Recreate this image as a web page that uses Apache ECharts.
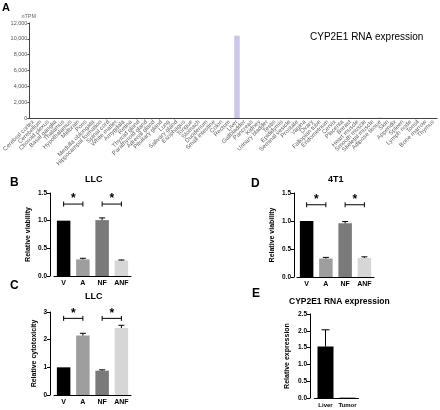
<!DOCTYPE html>
<html>
<head>
<meta charset="utf-8">
<script src="https://cdn.jsdelivr.net/npm/echarts@6/dist/echarts.min.js"></script>
<style>
html,body{margin:0;padding:0;background:#fff;}
#chart{width:440px;height:410px;}
</style>
</head>
<body>
<div id="chart"></div>
<script>
// ---------- DATA ----------
const tissues = ['Cerebral cortex','Cerebellum','Choroid plexus','Basal ganglia','Thalamus','Hypothalamus','Midbrain','Pons','Medulla oblongata','Hippocampal formation','Spinal cord','White matter','Amygdala','Retina','Thyroid gland','Parathyroid gland','Adrenal gland','Pituitary gland','Lung','Salivary gland','Esophagus','Tongue','Stomach','Duodenum','Small intestine','Colon','Rectum','Liver','Gallbladder','Pancreas','Kidney','Urinary bladder','Testis','Epididymis','Seminal vesicle','Prostate','Vagina','Ovary','Fallopian tube','Endometrium','Cervix','Placenta','Breast','Heart muscle','Smooth muscle','Skeletal muscle','Adipose tissue','Skin','Appendix','Spleen','Lymph node','Tonsil','Bone marrow','Thymus'];
const tissueNTPM = [12,8,10,15,9,14,10,11,12,10,13,9,11,6,4,5,20,6,18,3,8,4,6,9,7,5,6,10400,12,5,10,7,5,8,9,6,10,7,9,6,8,4,30,8,10,6,45,7,6,5,4,5,6,5];
const nTPMTicks = [0,2000,4000,6000,8000,10000,12000];

const groups = ['V','A','NF','ANF'];
const llcViability = [1.00, 0.30, 1.01, 0.28];
const llcViabilityErr = [0, 0.02, 0.04, 0.01];
const llcCytotoxicity = [1.00, 2.15, 0.88, 2.42];
const llcCytotoxicityErr = [0, 0.08, 0.03, 0.10];
const t1Viability = [1.00, 0.33, 0.96, 0.34];
const t1ViabilityErr = [0, 0.02, 0.03, 0.02];
const sigPairs = [[0,1],[2,3]];
const sigLevelB = 1.30, sigLevelC = 2.77, sigLevelD = 1.29;

const cypGroups = ['Liver','Tumor'];
const cypExpression = [1.53, 0.01];
const cypExpressionErr = [0.50, 0];

// ---------- STYLE ----------
const groupColors = ['#000000','#9e9e9e','#7a7a7a','#d6d6d6'];
const FONT = 'Liberation Sans, Arial, sans-serif';

function fmtThousands(v){ return String(v).replace(/\B(?=(\d{3})+(?!\d))/g, ','); }

function errSeries(xi, yi, vals, errs, cap){
  return {
    type:'custom', xAxisIndex:xi, yAxisIndex:yi, z:5,
    data: vals.map((v,i)=>[i, v, errs[i]]),
    encode:{x:0, y:1},
    renderItem:function(params, api){
      const x=api.value(0), v=api.value(1), e=api.value(2);
      if(!e) return null;
      const p0=api.coord([x,v]), p1=api.coord([x,v+e]);
      const h=cap/2;
      return {type:'group', children:[
        {type:'line', shape:{x1:p0[0],y1:p0[1],x2:p1[0],y2:p1[1]}, style:{stroke:'#000',lineWidth:1}},
        {type:'line', shape:{x1:p1[0]-h,y1:p1[1],x2:p1[0]+h,y2:p1[1]}, style:{stroke:'#000',lineWidth:1}}
      ]};
    }
  };
}
function sigSeries(xi, yi, level){
  return {
    type:'custom', xAxisIndex:xi, yAxisIndex:yi, z:5,
    data: sigPairs.map(p=>[p[0], p[1], level]),
    encode:{x:[0,1], y:2},
    renderItem:function(params, api){
      const a=api.coord([api.value(0), api.value(2)]);
      const b=api.coord([api.value(1), api.value(2)]);
      return {type:'group', children:[
        {type:'line', shape:{x1:a[0],y1:a[1],x2:b[0],y2:b[1]}, style:{stroke:'#000',lineWidth:1}},
        {type:'line', shape:{x1:a[0],y1:a[1]-2.5,x2:a[0],y2:a[1]+2.5}, style:{stroke:'#000',lineWidth:1}},
        {type:'line', shape:{x1:b[0],y1:b[1]-2.5,x2:b[0],y2:b[1]+2.5}, style:{stroke:'#000',lineWidth:1}},
        {type:'text', style:{text:'*', x:(a[0]+b[0])/2, y:a[1]+1, align:'center', verticalAlign:'bottom', font:'bold 12px '+FONT, fill:'#000'}}
      ]};
    }
  };
}
function barSeries(xi, yi, vals, width, colors){
  return {
    type:'bar', xAxisIndex:xi, yAxisIndex:yi, barWidth:width,
    data: vals.map((v,i)=>({value:v, itemStyle:{color:colors[i % colors.length]}}))
  };
}
function smallXAxis(gi, cats, fs){
  return {
    type:'category', gridIndex:gi, data:cats,
    axisLine:{lineStyle:{color:'#000',width:1}},
    axisTick:{alignWithLabel:true, length:3, interval:0, lineStyle:{color:'#000'}},
    axisLabel:{interval:0, hideOverlap:false, color:'#000', fontSize:fs, fontWeight:'bold', fontFamily:FONT, margin:4}
  };
}
function smallYAxis(gi, max, interval, decimals, name, offset, nameGap){
  return {
    type:'value', gridIndex:gi, min:0, max:max, interval:interval, offset:offset,
    name:name, nameLocation:'middle', nameGap:nameGap,
    nameTextStyle:{color:'#000', fontSize:7, fontWeight:'bold', fontFamily:FONT},
    axisLine:{show:true, lineStyle:{color:'#000',width:1}},
    axisTick:{show:true, length:3, lineStyle:{color:'#000'}},
    splitLine:{show:false},
    axisLabel:{color:'#000', fontSize:6.5, fontWeight:'bold', fontFamily:FONT, margin:3,
      formatter:v=>v.toFixed(decimals)}
  };
}

const chart = echarts.init(document.getElementById('chart'), null, {renderer:'canvas'});
const option = {
  animation:false,
  backgroundColor:'#ffffff',
  textStyle:{fontFamily:FONT},
  grid:[
    {left:21, top:23, width:416, height:95},
    {left:54, top:193, width:77, height:83},
    {left:54, top:312, width:77, height:83},
    {left:297, top:193, width:77, height:84},
    {left:314.5, top:314, width:44, height:84}
  ],
  xAxis:[
    {type:'category', gridIndex:0, data:tissues,
     axisLine:{lineStyle:{color:'#444',width:1}},
     axisTick:{alignWithLabel:true, length:2, interval:0, lineStyle:{color:'#444'}},
     axisLabel:{interval:0, rotate:45, fontSize:6, color:'#666', fontFamily:FONT, margin:3}},
    smallXAxis(1, groups, 7),
    smallXAxis(2, groups, 7),
    smallXAxis(3, groups, 7),
    smallXAxis(4, cypGroups, 6)
  ],
  yAxis:[
    {type:'value', gridIndex:0, min:nTPMTicks[0], max:nTPMTicks[nTPMTicks.length-1], interval:nTPMTicks[1]-nTPMTicks[0],
     name:'nTPM', nameLocation:'end', nameGap:4,
     nameTextStyle:{fontSize:5.5, color:'#666', fontFamily:FONT, align:'left', padding:[0,0,0,-8]},
     axisLine:{show:true, lineStyle:{color:'#444',width:1}},
     axisTick:{show:true, length:2, lineStyle:{color:'#444'}},
     splitLine:{show:false},
     axisLabel:{fontSize:5.5, color:'#555', fontFamily:FONT, margin:2, formatter:fmtThousands}},
    smallYAxis(1, 1.5, 0.5, 1, 'Relative viability', 4, 18),
    smallYAxis(2, 3, 1, 0, 'Relative cytotoxicity', 4, 12),
    smallYAxis(3, 1.5, 0.5, 1, 'Relative viability', 3, 18),
    smallYAxis(4, 2.5, 0.5, 1, 'Relative expression', 4.5, 19)
  ],
  series:[
    {type:'bar', xAxisIndex:0, yAxisIndex:0, barWidth:5.5, data:tissueNTPM, itemStyle:{color:'#cac8e8'}},
    barSeries(1,1,llcViability,13.5,groupColors),
    errSeries(1,1,llcViability,llcViabilityErr,6),
    sigSeries(1,1,sigLevelB),
    barSeries(2,2,llcCytotoxicity,13.5,groupColors),
    errSeries(2,2,llcCytotoxicity,llcCytotoxicityErr,6),
    sigSeries(2,2,sigLevelC),
    barSeries(3,3,t1Viability,13.5,groupColors),
    errSeries(3,3,t1Viability,t1ViabilityErr,6),
    sigSeries(3,3,sigLevelD),
    barSeries(4,4,cypExpression,16,['#000000']),
    errSeries(4,4,cypExpression,cypExpressionErr,8)
  ],
  graphic:[
    {type:'text', left:2, top:2, style:{text:'A', font:'bold 11px '+FONT, fill:'#000'}},
    {type:'text', left:310, top:32, style:{text:'CYP2E1 RNA expression', font:'10px '+FONT, fill:'#000'}},
    {type:'text', left:10, top:177, style:{text:'B', font:'bold 12px '+FONT, fill:'#000'}},
    {type:'text', left:85, top:175, style:{text:'LLC', font:'bold 9px '+FONT, fill:'#000'}},
    {type:'text', left:10, top:280, style:{text:'C', font:'bold 12px '+FONT, fill:'#000'}},
    {type:'text', left:85, top:292, style:{text:'LLC', font:'bold 9px '+FONT, fill:'#000'}},
    {type:'text', left:251, top:178, style:{text:'D', font:'bold 12px '+FONT, fill:'#000'}},
    {type:'text', left:328, top:175, style:{text:'4T1', font:'bold 9px '+FONT, fill:'#000'}},
    {type:'text', left:252, top:288, style:{text:'E', font:'bold 12px '+FONT, fill:'#000'}},
    {type:'text', left:289, top:297, style:{text:'CYP2E1 RNA expression', font:'bold 8.5px '+FONT, fill:'#000'}}
  ]
};
chart.setOption(option);
</script>
</body>
</html>
